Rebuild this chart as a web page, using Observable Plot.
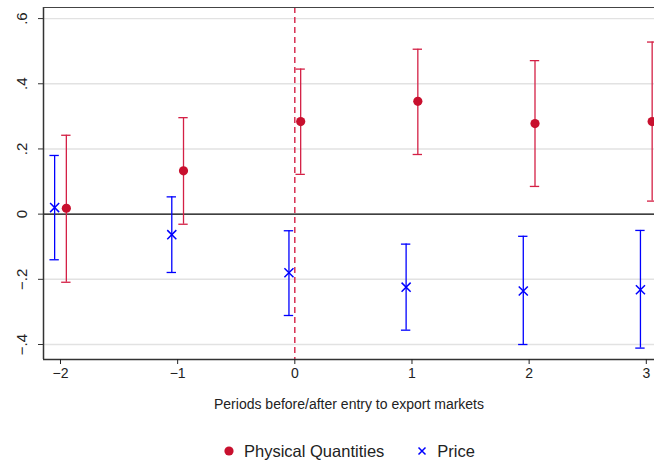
<!DOCTYPE html>
<html><head><meta charset="utf-8">
<script src="https://cdn.jsdelivr.net/npm/d3@7"></script>
<script src="https://cdn.jsdelivr.net/npm/@observablehq/plot@0.6"></script>
<style>
body{margin:0;background:#fff;font-family:"Liberation Sans",Arial,sans-serif}
#legend{height:44px;box-sizing:border-box;padding-top:18px;padding-left:223px;display:flex;align-items:center;font-size:16.5px;color:#222;line-height:20px}
#legend .item{display:flex;align-items:center;margin-right:32px}
#legend svg{margin-right:9px}
</style></head><body>
<div id="chart"></div>
<div id="legend"></div>
<script>
const periods = [-2, -1, 0, 1, 2, 3];
const qtyCoef = [0.018, 0.133, 0.284, 0.346, 0.278, 0.284];
const qtyLo   = [-0.209, -0.031, 0.122, 0.183, 0.085, 0.040];
const qtyHi   = [0.242, 0.296, 0.445, 0.506, 0.471, 0.528];
const priceCoef = [0.020, -0.063, -0.180, -0.224, -0.236, -0.232];
const priceLo   = [-0.140, -0.179, -0.311, -0.356, -0.400, -0.411];
const priceHi   = [0.180, 0.053, -0.051, -0.092, -0.068, -0.050];
const yTicks = [-0.4, -0.2, 0, 0.2, 0.4, 0.6];
const yTickLabels = ["\u2212.4", "\u2212.2", "0", ".2", ".4", ".6"];
const xLabel = "Periods before/after entry to export markets";
const seriesNames = ["Physical Quantities", "Price"];

const RED = "#c8102e", REDL = "#d42045", BLUE = "#0000ff";
const off = 0.05, cap = 0.04;
const qty = periods.map((p, i) => ({x: p + off, y: qtyCoef[i], lo: qtyLo[i], hi: qtyHi[i]}));
const price = periods.map((p, i) => ({x: p - off, y: priceCoef[i], lo: priceLo[i], hi: priceHi[i]}));
const xDom = [-2.145, 3.07], yDom = [-0.446, 0.634];
const grid = yTicks.filter(t => t !== 0);

const errorMarks = (data, color) => [
  Plot.ruleX(data, {x: "x", y1: "lo", y2: "hi", stroke: color, strokeWidth: 1.3}),
  Plot.ruleY(data, {y: "hi", x1: d => d.x - cap, x2: d => d.x + cap, stroke: color, strokeWidth: 1.3}),
  Plot.ruleY(data, {y: "lo", x1: d => d.x - cap, x2: d => d.x + cap, stroke: color, strokeWidth: 1.3})
];

const chart = Plot.plot({
  width: 654, height: 420,
  marginLeft: 43, marginTop: 7, marginRight: 0, marginBottom: 61,
  style: {fontFamily: "'Liberation Sans', Arial, sans-serif", background: "#fff"},
  x: {domain: xDom, axis: null},
  y: {domain: yDom, axis: null},
  marks: [
    Plot.ruleY(grid, {stroke: "#e2e2e2", strokeWidth: 1.4}),
    Plot.ruleY([0], {stroke: "#000", strokeWidth: 1.4}),
    Plot.ruleX([0], {stroke: "#d42045", strokeWidth: 1.4, strokeDasharray: "6,4"}),
    ...errorMarks(price, BLUE),
    ...errorMarks(qty, REDL),
    Plot.dot(qty, {x: "x", y: "y", r: 4.6, fill: RED, stroke: null}),
    Plot.dot(price, {x: "x", y: "y", symbol: "times", r: 4.2, stroke: BLUE, strokeWidth: 1.5}),
    Plot.ruleX([xDom[0]], {stroke: "#333", strokeWidth: 1.5}),
    Plot.ruleY([yDom[0]], {stroke: "#333", strokeWidth: 1.5}),
    Plot.ruleY([yDom[1]], {stroke: "#444", strokeWidth: 1}),
    Plot.axisY({ticks: yTicks, tickSize: 5, tickFormat: () => "", color: "#333"}),
    Plot.axisX({ticks: periods, tickSize: 5, tickPadding: 4, fontSize: 14, color: "#222",
      tickFormat: d => d < 0 ? "\u2212" + Math.abs(d) : String(d),
      label: xLabel, labelAnchor: "center", labelArrow: "none", labelOffset: 49}),
    Plot.text(yTicks, {y: d => d, text: (d, i) => yTickLabels[i], frameAnchor: "left", dx: -21,
      rotate: -90, textAnchor: "middle", lineAnchor: "middle", fontSize: 15, fill: "#222"})
  ]
});
document.getElementById("chart").append(chart);

const lg = document.getElementById("legend");
lg.innerHTML =
  `<span class="item"><svg width="12" height="12"><circle cx="6" cy="6" r="4.6" fill="${RED}"/></svg>${seriesNames[0]}</span>` +
  `<span class="item"><svg width="12" height="12"><path d="M2.5,2.5L9.5,9.5M9.5,2.5L2.5,9.5" stroke="${BLUE}" stroke-width="1.5"/></svg>${seriesNames[1]}</span>`;
</script>
</body></html>
